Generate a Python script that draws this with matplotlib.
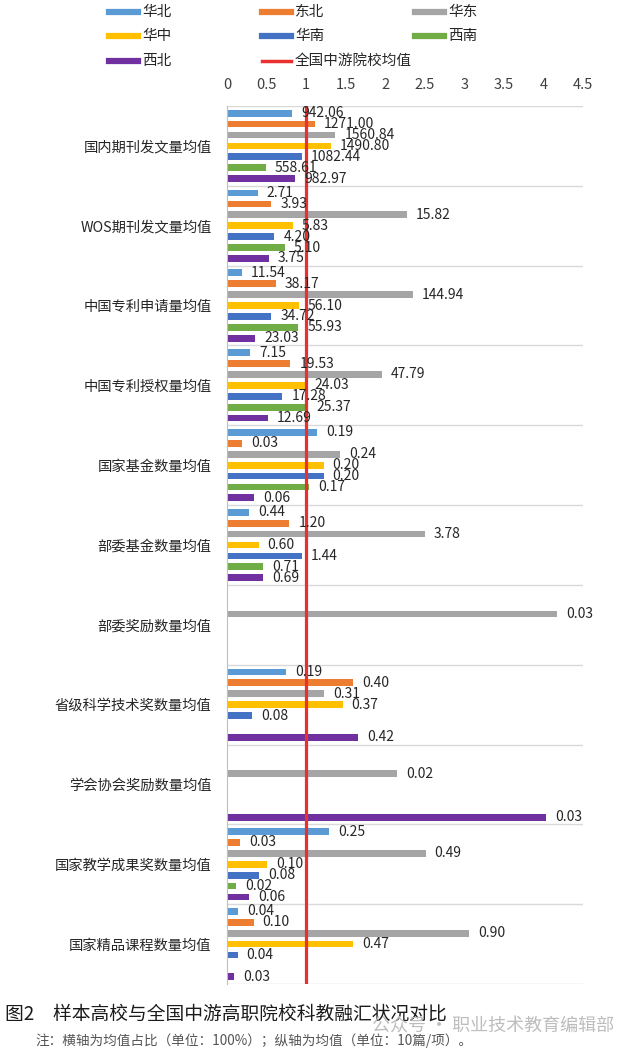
import numpy as np
import matplotlib
matplotlib.use("Agg")
import matplotlib.pyplot as plt
from matplotlib.lines import Line2D

plt.rcParams['font.family'] = ['Noto Sans CJK SC', 'DejaVu Sans']

categories = ["国内期刊发文量均值", "WOS期刊发文量均值", "中国专利申请量均值", "中国专利授权量均值",
              "国家基金数量均值", "部委基金数量均值", "部委奖励数量均值", "省级科学技术奖数量均值",
              "学会协会奖励数量均值", "国家教学成果奖数量均值", "国家精品课程数量均值"]
regions = ["华北", "东北", "华东", "华中", "华南", "西南", "西北"]
colors = ["#5B9BD5", "#ED7D31", "#A5A5A5", "#FFC000", "#4472C4", "#70AD47", "#7030A0"]
nan = np.nan

# bar length = ratio to national mid-tier average (x axis)
ratio_huabei = [0.82, 0.386, 0.19, 0.29, 1.14, 0.28, nan, 0.75, nan, 1.29, 0.14]
ratio_dongbei = [1.11, 0.56, 0.62, 0.80, 0.195, 0.79, nan, 1.59, nan, 0.165, 0.335]
ratio_huadong = [1.37, 2.27, 2.35, 1.96, 1.43, 2.50, 4.17, 1.23, 2.15, 2.51, 3.06]
ratio_huazhong = [1.31, 0.83, 0.91, 0.99, 1.22, 0.40, nan, 1.46, nan, 0.51, 1.59]
ratio_huanan = [0.945, 0.60, 0.56, 0.70, 1.22, 0.95, nan, 0.32, nan, 0.41, 0.135]
ratio_xinan = [0.49, 0.73, 0.90, 1.02, 1.04, 0.46, nan, nan, nan, 0.12, nan]
ratio_xibei = [0.86, 0.53, 0.36, 0.52, 0.34, 0.46, nan, 1.66, 4.03, 0.28, 0.093]

# label = actual mean value
val_huabei = [942.06, 2.71, 11.54, 7.15, 0.19, 0.44, nan, 0.19, nan, 0.25, 0.04]
val_dongbei = [1271.00, 3.93, 38.17, 19.53, 0.03, 1.20, nan, 0.40, nan, 0.03, 0.10]
val_huadong = [1560.84, 15.82, 144.94, 47.79, 0.24, 3.78, 0.03, 0.31, 0.02, 0.49, 0.90]
val_huazhong = [1490.80, 5.83, 56.10, 24.03, 0.20, 0.60, nan, 0.37, nan, 0.10, 0.47]
val_huanan = [1082.44, 4.20, 34.72, 17.28, 0.20, 1.44, nan, 0.08, nan, 0.08, 0.04]
val_xinan = [558.61, 5.10, 55.93, 25.37, 0.17, 0.71, nan, nan, nan, 0.02, nan]
val_xibei = [982.97, 3.75, 23.03, 12.69, 0.06, 0.69, nan, 0.42, 0.03, 0.06, 0.03]

xticks = [0, 0.5, 1, 1.5, 2, 2.5, 3, 3.5, 4, 4.5]
xticklabels = ["0", "0.5", "1", "1.5", "2", "2.5", "3", "3.5", "4", "4.5"]
national_avg = 1.0

ratios = [ratio_huabei, ratio_dongbei, ratio_huadong, ratio_huazhong, ratio_huanan, ratio_xinan, ratio_xibei]
values = [val_huabei, val_dongbei, val_huadong, val_huazhong, val_huanan, val_xinan, val_xibei]

W, H = 620, 1052
fig = plt.figure(figsize=(W / 100, H / 100), dpi=100)
ax = fig.add_axes([227 / W, 1 - 984 / H, 356 / W, 878 / H])

y = np.arange(len(categories))
slot = 0.1366
bh = 0.085
for j, (r, v, c) in enumerate(zip(ratios, values, colors)):
    pos = y + (j - 3) * slot
    rr = np.array(r, dtype=float)
    bars = ax.barh(pos, np.nan_to_num(rr), height=bh, color=c, zorder=2)
    labels = ["" if np.isnan(val) else f"{val:.2f}" for val in v]
    ax.bar_label(bars, labels=labels, padding=6.5, fontsize=10, color="#262626", zorder=4)

ax.axvline(national_avg, color="#E8312F", lw=2.3, zorder=3)

ax.set_xlim(0, 4.5)
ax.set_ylim(len(categories) - 0.5, -0.5)
ax.set_xticks(xticks)
ax.set_xticklabels(xticklabels)
ax.xaxis.tick_top()
ax.tick_params(axis='x', length=0, labelsize=10.5, colors="#404040", pad=10)
ax.set_yticks(y)
ax.set_yticklabels(categories)
ax.tick_params(axis='y', length=0, labelsize=10.3, colors="#262626", pad=11)
for b in np.arange(-0.5, len(categories), 1.0):
    ax.axhline(b, color="#D9D9D9", lw=1, zorder=1)
for s in ["top", "right", "bottom"]:
    ax.spines[s].set_visible(False)
ax.spines["left"].set_color("#BFBFBF")

# legend (manual layout, 3 columns)
leg_items = list(zip(regions, colors)) + [("全国中游院校均值", "#E8312F")]
col_x = [109, 262, 415]
row_y = [12, 36, 61]
for k, (name, c) in enumerate(leg_items):
    cx = col_x[k % 3]
    cy = row_y[k // 3]
    lw = 2.5 if name == "全国中游院校均值" else 4.5
    fig.add_artist(Line2D([cx / W, (cx + 29) / W], [1 - cy / H, 1 - cy / H], color=c, lw=lw))
    fig.text((cx + 33) / W, 1 - cy / H, name, fontsize=10.5, va="center", ha="left", color="#262626")

fig.text(5 / W, 1 - 1014 / H, "图2\u3000样本高校与全国中游高职院校科教融汇状况对比",
         fontsize=13.5, va="center", ha="left", color="#1a1a1a")
fig.text(372 / W, 1 - 1027 / H, "公众号 · 职业技术教育编辑部", fontsize=13,
         va="center", ha="left", color="#BDBDBD")
fig.text(35 / W, 1 - 1041 / H, "注：横轴为均值占比（单位：100%）；纵轴为均值（单位：10篇/项）。",
         fontsize=9.8, va="center", ha="left", color="#555555")

fig.savefig("out.png", dpi=100)
